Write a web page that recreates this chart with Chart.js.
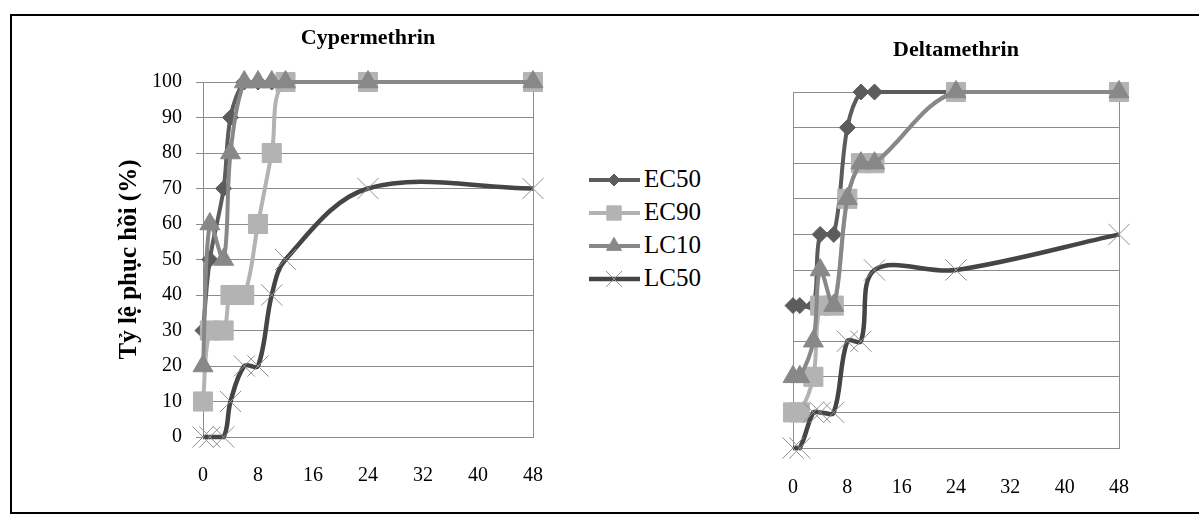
<!DOCTYPE html>
<html>
<head>
<meta charset="utf-8">
<script src="https://cdn.jsdelivr.net/npm/chart.js@4.4.1/dist/chart.umd.min.js"></script>
<style>
  body { margin: 0; background: #fff; width: 1199px; height: 523px; overflow: hidden; position: relative;
         font-family: "Liberation Serif", "Times New Roman", serif; }
  #frame { position: absolute; left: 10px; top: 14px; width: 1200px; height: 500px; border: 2px solid #000; box-sizing: border-box; }
  #c1 { position: absolute; left: 100px; top: 0; }
  #c2 { position: absolute; left: 760px; top: 0; }
  #legend { position: absolute; left: 587px; top: 163px; }
  .item { position: relative; height: 33px; }
  .item canvas { position: absolute; left: 0; top: 0; }
  .item span { position: absolute; left: 57px; top: 1px; font-size: 25px; line-height: 30px; color: #000; }
</style>
</head>
<body>
<div id="frame"></div>
<canvas id="c1" width="470" height="523"></canvas>
<canvas id="c2" width="439" height="523"></canvas>
<div id="legend"></div>
<script>
// ===============================
//  DATI
// ===============================
const hours = [0, 1, 3, 4, 6, 8, 10, 12, 24, 48];
const seriesNames = ["EC50", "EC90", "LC10", "LC50"];

const cyperEC50 = [30, 50, 70, 90, 100, 100, 100, 100, 100, 100];
const cyperEC90 = [10, 30, 30, 40, 40, 60, 80, 100, 100, 100];
const cyperLC10 = [20, 60, 50, 80, 100, 100, 100, 100, 100, 100];
const cyperLC50 = [0, 0, 0, 10, 20, 20, 40, 50, 70, 70];

const deltaEC50 = [40, 40, 40, 60, 60, 90, 100, 100, 100, 100];
const deltaEC90 = [10, 10, 20, 40, 40, 70, 80, 80, 100, 100];
const deltaLC10 = [20, 20, 30, 50, 40, 70, 80, 80, 100, 100];
const deltaLC50 = [0, 0, 10, 10, 10, 30, 30, 50, 50, 60];

const xMin = 0, xMax = 48, xStep = 8;
const yMin = 0, yMax = 100, yStep = 10;

// ===============================
//  STILI
// ===============================
const styles = [
  { color: "#5c5c5c", point: "rectRot", radius: 8, pColor: "#5c5c5c", pWidth: 1, width: 4 },
  { color: "#b3b3b3", point: "rect", radius: 13.5, pColor: "#b3b3b3", pWidth: 1, width: 4 },
  { color: "#888888", point: "triangle", radius: 11.5, pColor: "#888888", pWidth: 1, width: 4 },
  { color: "#454545", point: "crossRot", radius: 15, pColor: "#909090", pWidth: 1, width: 4.5 }
];

const gridColor = "#8c8c8c";
const serif = "'Liberation Serif', 'Times New Roman', serif";

function buildDatasets(values) {
  return values.map((vals, i) => ({
    label: seriesNames[i],
    data: hours.map((h, k) => ({ x: h, y: vals[k] })),
    borderColor: styles[i].color,
    borderWidth: styles[i].width,
    backgroundColor: styles[i].pColor,
    pointStyle: styles[i].point,
    pointRadius: styles[i].radius,
    pointBorderColor: styles[i].pColor,
    pointBackgroundColor: styles[i].pColor,
    pointBorderWidth: styles[i].pWidth,
    tension: 0.35,
    fill: false,
    clip: false,
    order: 4 - i
  }));
}

function makeChart(id, title, values, cfg) {
  const ctx = document.getElementById(id).getContext("2d");
  return new Chart(ctx, {
    type: "line",
    data: { datasets: buildDatasets(values) },
    options: {
      responsive: false,
      animation: false,
      events: [],
      layout: { padding: { top: 0, right: cfg.padRight, bottom: 0, left: 0 } },
      plugins: {
        legend: { display: false },
        tooltip: { enabled: false },
        title: {
          display: true,
          text: title,
          fullSize: false,
          color: "#000",
          font: { family: serif, size: 22, weight: "bold" },
          padding: { top: cfg.titleTop, bottom: cfg.titleBottom }
        }
      },
      scales: {
        x: {
          type: "linear",
          min: xMin,
          max: xMax,
          ticks: { stepSize: xStep, color: "#000", font: { family: serif, size: 20 }, padding: cfg.xPad, maxRotation: 0 },
          grid: {
            drawTicks: false,
            lineWidth: 1,
            color: c => (c.tick && c.tick.value === xMax ? gridColor : "rgba(0,0,0,0)")
          },
          border: { display: true, color: gridColor, width: 1 },
          afterFit: s => { s.height = cfg.xHeight; }
        },
        y: {
          min: yMin,
          max: yMax,
          ticks: { stepSize: yStep, display: cfg.yLabels, color: "#000", font: { family: serif, size: 20 }, padding: 14 },
          grid: { color: gridColor, lineWidth: 1, drawTicks: cfg.yLabels, tickLength: 7 },
          border: { display: true, color: gridColor, width: 1 },
          title: {
            display: cfg.yLabels,
            text: "Tỷ lệ phục hồi (%)",
            color: "#000",
            font: { family: serif, size: 25, weight: "bold" },
            padding: { top: 15, bottom: 0 }
          },
          afterFit: s => { s.width = cfg.yWidth; }
        }
      }
    }
  });
}

// ===============================
//  GRAFICI
// ===============================
makeChart("c1", "Cypermethrin", [cyperEC50, cyperEC90, cyperLC10, cyperLC50],
  { padRight: 34, titleTop: 25, titleBottom: 30.6, xPad: 27, xHeight: 86, yWidth: 103, yLabels: true });

makeChart("c2", "Deltamethrin", [deltaEC50, deltaEC90, deltaLC10, deltaLC50],
  { padRight: 80, titleTop: 36.8, titleBottom: 28.8, xPad: 28, xHeight: 75, yWidth: 25, yLabels: false });

// ===============================
//  LEGENDA
// ===============================
const legend = document.getElementById("legend");
seriesNames.forEach((name, i) => {
  const st = styles[i];
  const item = document.createElement("div");
  item.className = "item";
  const cv = document.createElement("canvas");
  cv.width = 56; cv.height = 33;
  const g = cv.getContext("2d");
  g.strokeStyle = st.color;
  g.lineWidth = st.width;
  g.beginPath(); g.moveTo(2, 17); g.lineTo(53, 17); g.stroke();
  if (Chart.helpers && Chart.helpers.drawPoint) {
    g.fillStyle = st.pColor;
    g.strokeStyle = st.pColor;
    g.lineWidth = st.pWidth;
    Chart.helpers.drawPoint(g, { pointStyle: st.point, radius: st.radius * 0.75, borderWidth: st.pWidth, rotation: 0 }, 27, 17);
  }
  const sp = document.createElement("span");
  sp.textContent = name;
  item.appendChild(cv);
  item.appendChild(sp);
  legend.appendChild(item);
});
</script>
</body>
</html>
